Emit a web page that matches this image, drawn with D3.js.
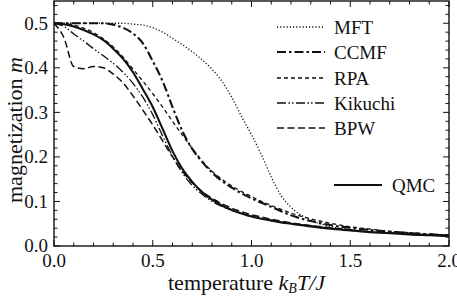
<!DOCTYPE html>
<html>
<head>
<meta charset="utf-8">
<script src="https://cdn.jsdelivr.net/npm/d3@7"></script>
<style>
  html, body { margin: 0; padding: 0; background: #fff; }
  svg { display: block; font-family: "Liberation Serif", "DejaVu Serif", serif; }
</style>
</head>
<body>
<div id="chart"></div>
<script>
// ---- Data ----
const temps = [0, 0.05, 0.1, 0.15, 0.2, 0.25, 0.3, 0.35, 0.4, 0.45, 0.5, 0.55, 0.6, 0.65, 0.7, 0.75,
  0.8, 0.85, 0.9, 0.95, 1.0, 1.05, 1.1, 1.15, 1.2, 1.3, 1.4, 1.5, 1.6, 1.7, 1.8, 1.9, 2.0];

const mft = [0.5, 0.5, 0.5, 0.5, 0.5, 0.5, 0.5, 0.5, 0.498, 0.496, 0.49, 0.48, 0.466, 0.452, 0.436, 0.418,
  0.397, 0.37, 0.334, 0.29, 0.25, 0.205, 0.155, 0.113, 0.087, 0.058, 0.044, 0.037, 0.032, 0.029, 0.027, 0.025, 0.024];
const ccmf = [0.5, 0.5, 0.5, 0.5, 0.5, 0.5, 0.497, 0.49, 0.477, 0.455, 0.415, 0.37, 0.312, 0.258, 0.218, 0.189,
  0.165, 0.146, 0.131, 0.118, 0.107, 0.097, 0.088, 0.078, 0.069, 0.056, 0.047, 0.041, 0.036, 0.032, 0.029, 0.026, 0.024];
const rpa = [0.5, 0.499, 0.496, 0.489, 0.479, 0.465, 0.447, 0.424, 0.397, 0.37, 0.342, 0.312, 0.28, 0.249, 0.219, 0.191,
  0.168, 0.15, 0.135, 0.122, 0.111, 0.1, 0.091, 0.082, 0.074, 0.061, 0.051, 0.043, 0.038, 0.033, 0.03, 0.027, 0.025];
const kikuchi = [0.5, 0.493, 0.476, 0.46, 0.443, 0.427, 0.41, 0.39, 0.365, 0.334, 0.295, 0.247, 0.202, 0.164, 0.136, 0.116,
  0.1, 0.089, 0.08, 0.073, 0.067, 0.062, 0.058, 0.054, 0.051, 0.045, 0.04, 0.036, 0.032, 0.029, 0.027, 0.025, 0.023];
const bpw = [0.5, 0.468, 0.403, 0.398, 0.403, 0.4, 0.386, 0.366, 0.337, 0.305, 0.272, 0.236, 0.2, 0.168, 0.142, 0.122,
  0.107, 0.095, 0.085, 0.077, 0.07, 0.065, 0.06, 0.056, 0.052, 0.046, 0.041, 0.036, 0.032, 0.029, 0.027, 0.025, 0.023];
const qmc = [0.5, 0.498, 0.493, 0.485, 0.475, 0.462, 0.443, 0.42, 0.39, 0.352, 0.312, 0.263, 0.213, 0.173, 0.144, 0.121,
  0.104, 0.091, 0.081, 0.073, 0.066, 0.061, 0.057, 0.053, 0.05, 0.044, 0.039, 0.035, 0.031, 0.029, 0.026, 0.024, 0.022];

const xTicks = [0, 0.5, 1.0, 1.5, 2.0];
const yTicks = [0, 0.1, 0.2, 0.3, 0.4, 0.5];

const series = [
  { name: 'MFT',     values: mft,     width: 1.3, dash: '1.2,2' },
  { name: 'CCMF',    values: ccmf,    width: 2.1, dash: '9,3,2.5,3' },
  { name: 'RPA',     values: rpa,     width: 1.3, dash: '4,3' },
  { name: 'Kikuchi', values: kikuchi, width: 1.3, dash: '9,2.5,1.5,2,1.5,2.5' },
  { name: 'BPW',     values: bpw,     width: 1.5, dash: '7,3.5' },
  { name: 'QMC',     values: qmc,     width: 2.1, dash: null }
];

// ---- Layout ----
const W = 457, H = 299;
const margin = { top: 1, right: 8, bottom: 53, left: 54 };
const innerWidth = W - margin.left - margin.right;
const innerHeight = H - margin.top - margin.bottom;

const svg = d3.select('#chart').append('svg').attr('width', W).attr('height', H);
const g = svg.append('g').attr('transform', `translate(${margin.left},${margin.top})`);

const x = d3.scaleLinear().domain([0, 2]).range([0, innerWidth]);
const y = d3.scaleLinear().domain([0, 0.55]).range([innerHeight, 0]);

const ink = '#111';

// ---- Ticks (inward, all four sides) ----
const xMinor = d3.range(0, 2.0001, 0.1);
const yMinor = d3.range(0, 0.5501, 0.02);
const isMajorX = v => Math.abs(v * 2 - Math.round(v * 2)) < 1e-6;
const isMajorY = v => Math.abs(v * 10 - Math.round(v * 10)) < 1e-6;

const tickG = g.append('g').attr('stroke', ink).attr('stroke-width', 1);
xMinor.forEach(v => {
  const len = isMajorX(v) ? 6 : 3.5;
  tickG.append('line').attr('x1', x(v)).attr('x2', x(v)).attr('y1', innerHeight).attr('y2', innerHeight - len);
  tickG.append('line').attr('x1', x(v)).attr('x2', x(v)).attr('y1', 0).attr('y2', len);
});
yMinor.forEach(v => {
  const len = isMajorY(v) ? 6 : 3.5;
  tickG.append('line').attr('x1', 0).attr('x2', len).attr('y1', y(v)).attr('y2', y(v));
  tickG.append('line').attr('x1', innerWidth).attr('x2', innerWidth - len).attr('y1', y(v)).attr('y2', y(v));
});

// ---- Tick labels ----
g.append('g').selectAll('text').data(xTicks).join('text')
  .attr('x', d => x(d)).attr('y', innerHeight + 21)
  .attr('text-anchor', 'middle').attr('font-size', '19px').attr('fill', ink)
  .text(d3.format('.1f'));

g.append('g').selectAll('text').data(yTicks).join('text')
  .attr('x', -6).attr('y', d => y(d)).attr('dy', '0.34em')
  .attr('text-anchor', 'end').attr('font-size', '19px').attr('fill', ink)
  .text(d3.format('.1f'));

// ---- Curves ----
const line = d3.line()
  .x((d, i) => x(temps[i]))
  .y(d => y(d))
  .curve(d3.curveMonotoneX);

const clip = svg.append('defs').append('clipPath').attr('id', 'plotClip');
clip.append('rect').attr('width', innerWidth).attr('height', innerHeight);

g.append('g').attr('clip-path', 'url(#plotClip)')
  .selectAll('path').data(series).join('path')
  .attr('d', d => line(d.values))
  .attr('fill', 'none')
  .attr('stroke', ink)
  .attr('stroke-width', d => d.width)
  .attr('stroke-dasharray', d => d.dash);

// ---- Frame ----
g.append('rect').attr('width', innerWidth).attr('height', innerHeight)
  .attr('fill', 'none').attr('stroke', ink).attr('stroke-width', 1.4);

// ---- Legend ----
const legendRows = [27, 52, 78, 103, 128, 185];
const legend = svg.append('g');
series.forEach((s, i) => {
  const yy = legendRows[i];
  const isQmc = s.name === 'QMC';
  const x1 = isQmc ? 334 : 277, x2 = isQmc ? 382 : 325, tx = isQmc ? 392 : 334;
  legend.append('line').attr('x1', x1).attr('x2', x2).attr('y1', yy).attr('y2', yy)
    .attr('stroke', ink).attr('stroke-width', s.width).attr('stroke-dasharray', s.dash);
  legend.append('text').attr('x', tx).attr('y', yy).attr('dy', '0.35em')
    .attr('font-size', '19px').attr('fill', ink).text(s.name);
});

// ---- Axis titles ----
const xt = svg.append('text').attr('x', 168).attr('y', 290).attr('font-size', '22px').attr('fill', ink);
xt.append('tspan').text('temperature  ');
xt.append('tspan').attr('font-style', 'italic').text('k');
xt.append('tspan').attr('font-style', 'italic').attr('font-size', '14px').attr('dy', 3).text('B');
xt.append('tspan').attr('font-style', 'italic').attr('dy', -3).text('T/J');

const yt = svg.append('text').attr('transform', 'translate(22,203) rotate(-90)')
  .attr('font-size', '22px').attr('fill', ink);
yt.append('tspan').text('magnetization  ');
yt.append('tspan').attr('font-style', 'italic').text('m');
</script>
</body>
</html>
